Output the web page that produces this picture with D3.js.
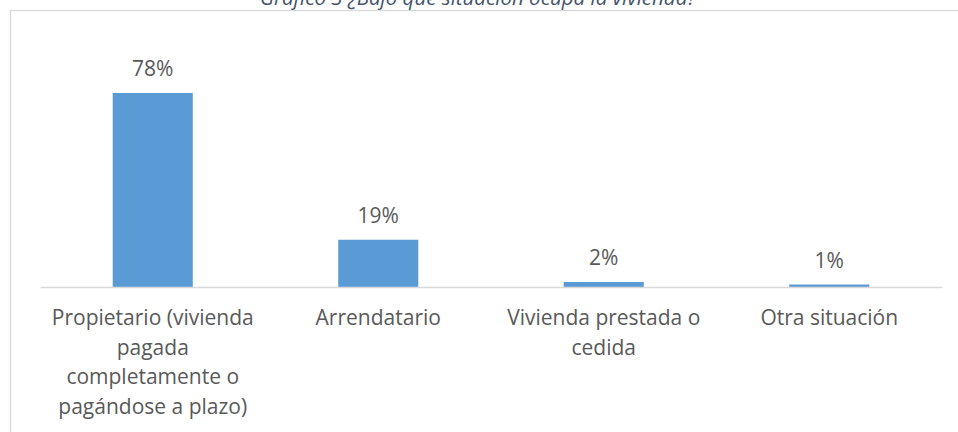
<!DOCTYPE html>
<html>
<head>
<meta charset="utf-8">
<script src="https://cdn.jsdelivr.net/npm/d3@7"></script>
<style>
  body { margin: 0; background: #fff; }
  text { font-family: "Open Sans", sans-serif; fill: #595959; }
</style>
</head>
<body>
<div id="chart"></div>
<script>

// data
var categories = ["Propietario (vivienda pagada completamente o pagándose a plazo)",
                  "Arrendatario",
                  "Vivienda prestada o cedida",
                  "Otra situación"];
var values = [78, 19, 2, 1];
var valueLabels = ["78%", "19%", "2%", "1%"];
var titleText = "Gráfico 3 ¿Bajo qué situación ocupa la vivienda?";

// dimensions
var W = 958, H = 432;
var margin = {top: 93, right: 16, bottom: 145, left: 40},
    width = W - margin.left - margin.right,
    height = H - margin.top - margin.bottom;

var svg = d3.select("#chart")
  .append("svg")
    .attr("width", W)
    .attr("height", H);

// chart area border (only top and left visible)
svg.append("rect")
    .attr("x", 10.5)
    .attr("y", 10.5)
    .attr("width", W + 20)
    .attr("height", H + 20)
    .attr("fill", "none")
    .attr("stroke", "#d9d9d9")
    .attr("stroke-width", 1.3);

// title, cut at the top of the frame as in the source
svg.append("text")
    .attr("x", 478)
    .attr("y", 5)
    .attr("text-anchor", "middle")
    .style("font-style", "italic")
    .style("font-size", "20.5px")
    .style("fill", "#44546a")
    .text(titleText);

var g = svg.append("g")
    .attr("transform", "translate(" + margin.left + "," + margin.top + ")");

// X axis
var x = d3.scaleBand()
  .range([0, width])
  .domain(categories)
  .paddingInner(0.645)
  .paddingOuter(0.3225);

// Y axis (not drawn)
var y = d3.scaleLinear()
  .domain([0, 78])
  .range([height, 0]);

// Bars
g.selectAll(".bar")
  .data(values)
  .enter()
  .append("rect")
    .attr("class", "bar")
    .attr("x", function(d, i) { return x(categories[i]); })
    .attr("width", x.bandwidth())
    .attr("y", function(d) { return y(d); })
    .attr("height", function(d) { return height - y(d); })
    .attr("fill", "#5b9bd5");

// baseline
var xAxis = g.append("g")
  .attr("transform", "translate(0," + height + ")")
  .call(d3.axisBottom(x).tickSize(0).tickPadding(38));
xAxis.select(".domain")
  .attr("stroke", "#d9d9d9")
  .attr("stroke-width", 1.5);
xAxis.selectAll("text")
  .style("font-size", "21px")
  .style("fill", "#595959")
  .attr("font-family", null)
  .call(wrap, 225);

// value labels
g.selectAll(".lbl")
  .data(values)
  .enter()
  .append("text")
    .attr("class", "lbl")
    .attr("x", function(d, i) { return x(categories[i]) + x.bandwidth() / 2; })
    .attr("y", function(d) { return y(d) - 17; })
    .attr("text-anchor", "middle")
    .style("font-size", "21px")
    .text(function(d, i) { return valueLabels[i]; });

// wrap long category labels over several lines
function wrap(texts, w) {
  texts.each(function() {
    var text = d3.select(this),
        words = text.text().split(/\s+/),
        line = [],
        lineNo = 0,
        lh = 29.7,
        y0 = +text.attr("y");
    text.text(null);
    var tspan = text.append("tspan").attr("x", 0).attr("y", y0);
    words.forEach(function(word) {
      line.push(word);
      tspan.text(line.join(" "));
      if (tspan.node().getComputedTextLength() > w && line.length > 1) {
        line.pop();
        tspan.text(line.join(" "));
        line = [word];
        lineNo++;
        tspan = text.append("tspan").attr("x", 0).attr("y", y0 + lineNo * lh).text(word);
      }
    });
    text.attr("dy", null);
  });
}

</script>
</body>
</html>
